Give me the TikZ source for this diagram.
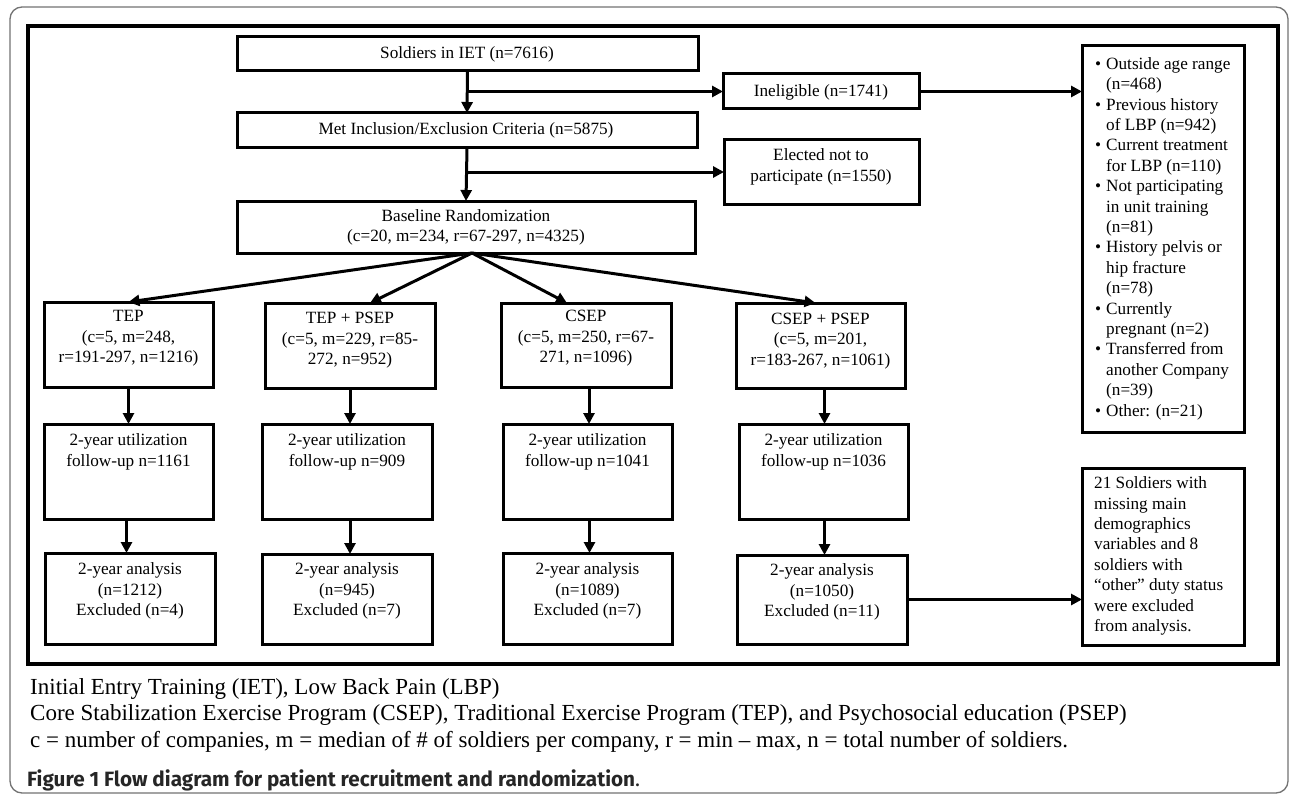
\documentclass[tikz,border=0pt]{standalone}
\usepackage{fontspec}
\setmainfont{Liberation Serif}
\newfontfamily\capfont{Fira Sans}
\usetikzlibrary{arrows.meta,calc}
\newcommand\bl{\makebox[11pt][l]{•}}
\newcommand\ind{\hspace*{11pt}}
\begin{document}
\begin{tikzpicture}[x=1pt,y=-1pt,
  fbox/.style={draw=black, line width=3pt, inner sep=0pt, outer sep=0pt},
  txt/.style={font=\fontsize{17.2}{20.4}\selectfont, align=center, inner sep=0pt},
  ltxt/.style={font=\fontsize{17.2}{20.4}\selectfont, align=left, inner sep=0pt, anchor=west},
  arr/.style={line width=3pt, -{Triangle[length=11pt,width=11pt]}},
  ln/.style={line width=3pt},
  note/.style={font=\fontsize{23}{26.5}\selectfont, anchor=west, inner sep=0pt}]

\useasboundingbox (0,0) rectangle (1290,797);
\fill[white] (0,0) rectangle (1290,797);
\draw[black!55, line width=1.3pt, rounded corners=12pt] (10,7) rectangle (1288,793);
\draw[line width=4pt] (28,26) rectangle (1278,664);

% boxes
\node[fbox, minimum width=461pt, minimum height=34pt] (soldiers) at (467.5,54) {};
\node[fbox, minimum width=460pt, minimum height=35pt] (met) at (467,130.5) {};
\node[fbox, minimum width=458pt, minimum height=52pt] (base) at (466,227) {};
\node[fbox, minimum width=196pt, minimum height=35pt] (inel) at (821,91.5) {};
\node[fbox, minimum width=195pt, minimum height=64pt] (elect) at (821.5,172) {};
\node[fbox, minimum width=162pt, minimum height=386pt] (list) at (1163,239) {};
\node[fbox, minimum width=169pt, minimum height=85pt] (tep) at (128.5,344.5) {};
\node[fbox, minimum width=170pt, minimum height=85pt] (tepp) at (350,345.5) {};
\node[fbox, minimum width=170pt, minimum height=84pt] (csep) at (586,345) {};
\node[fbox, minimum width=169pt, minimum height=85pt] (csepp) at (820.5,345.5) {};
\node[fbox, minimum width=169pt, minimum height=95pt] (util1) at (128.5,471.5) {};
\node[fbox, minimum width=170pt, minimum height=95pt] (util2) at (347,471.5) {};
\node[fbox, minimum width=169pt, minimum height=95pt] (util3) at (587.5,471.5) {};
\node[fbox, minimum width=169pt, minimum height=95pt] (util4) at (823.5,471.5) {};
\node[fbox, minimum width=170pt, minimum height=91pt] (anal1) at (130,598.5) {};
\node[fbox, minimum width=170pt, minimum height=90pt] (anal2) at (347,599) {};
\node[fbox, minimum width=169pt, minimum height=91pt] (anal3) at (587.5,598.5) {};
\node[fbox, minimum width=170pt, minimum height=89pt] (anal4) at (822,599.5) {};
\node[fbox, minimum width=162pt, minimum height=177pt] (excl) at (1163,556.5) {};

% texts
\node[txt] (soldiers-t) at (467,54) {Soldiers in IET (n=7616)};
\node[txt] (met-t) at (466,130.5) {Met Inclusion/Exclusion Criteria (n=5875)};
\node[txt] (base-t) at (466,227.5) {Baseline Randomization\\(c=20, m=234, r=67-297, n=4325)};
\node[txt] (inel-t) at (821,92) {Ineligible (n=1741)};
\node[txt] (elect-t) at (821,167) {Elected not to\\participate (n=1550)};
\node[ltxt] (list-t) at (1095,238.5) {\bl Outside age range\\\ind(n=468)\\\bl Previous history\\\ind of LBP (n=942)\\\bl Current treatment\\\ind for LBP (n=110)\\\bl Not participating\\\ind in unit training\\\ind(n=81)\\\bl History pelvis or\\\ind hip fracture\\\ind(n=78)\\\bl Currently\\\ind pregnant (n=2)\\\bl Transferred from\\\ind another Company\\\ind(n=39)\\\bl Other: (n=21)};
\node[txt] (tep-t) at (128.5,338.5) {TEP\\(c=5, m=248,\\r=191-297, n=1216)};
\node[txt] (tepp-t) at (350,340.5) {TEP + PSEP\\(c=5, m=229, r=85-\\272, n=952)};
\node[txt] (csep-t) at (586,338.5) {CSEP\\(c=5, m=250, r=67-\\271, n=1096)};
\node[txt] (csepp-t) at (820.5,341) {CSEP + PSEP\\(c=5, m=201,\\r=183-267, n=1061)};
\node[txt] (util1-t) at (128.5,452) {2-year utilization\\follow-up n=1161};
\node[txt] (util2-t) at (347,452) {2-year utilization\\follow-up n=909};
\node[txt] (util3-t) at (587.5,452) {2-year utilization\\follow-up n=1041};
\node[txt] (util4-t) at (823.5,452) {2-year utilization\\follow-up n=1036};
\node[txt] (anal1-t) at (130,591) {2-year analysis\\(n=1212)\\Excluded (n=4)};
\node[txt] (anal2-t) at (347,591) {2-year analysis\\(n=945)\\Excluded (n=7)};
\node[txt] (anal3-t) at (587.5,591) {2-year analysis\\(n=1089)\\Excluded (n=7)};
\node[txt] (anal4-t) at (822,592) {2-year analysis\\(n=1050)\\Excluded (n=11)};
\node[ltxt] (excl-t) at (1094,556) {21 Soldiers with\\missing main\\demographics\\variables and 8\\soldiers with\\“other” duty status\\were excluded\\from analysis.};

% connectors
\draw[arr] (soldiers.south) -- (met.north);
\draw[arr] (soldiers.south |- inel.west) -- (inel.west);
\draw[arr] (met.south) -- (base.north);
\draw[arr] (met.south |- elect.west) -- (elect.west);
\draw[arr] (inel.east) -- (inel.east -| list.west);
\draw[arr] ([xshift=6pt]base.south) -- (tep.north);
\draw[arr] ([xshift=6pt]base.south) -- ([xshift=20pt]tepp.north);
\draw[arr] ([xshift=6pt]base.south) -- ([xshift=-19pt]csep.north);
\draw[arr] ([xshift=6pt]base.south) -- ([xshift=-5pt]csepp.north);
\draw[arr] (tep.south) -- (tep.south |- util1.north);
\draw[arr] (tepp.south) -- (tepp.south |- util2.north);
\draw[arr] ([xshift=3pt]csep.south) -- ([xshift=3pt]csep.south |- util3.north);
\draw[arr] ([xshift=4pt]csepp.south) -- ([xshift=4pt]csepp.south |- util4.north);
\draw[arr] ([xshift=-2pt]util1.south) -- ([xshift=-2pt]util1.south |- anal1.north);
\draw[arr] ([xshift=3pt]util2.south) -- ([xshift=3pt]util2.south |- anal2.north);
\draw[arr] ([xshift=2pt]util3.south) -- ([xshift=2pt]util3.south |- anal3.north);
\draw[arr] ([xshift=1pt]util4.south) -- ([xshift=1pt]util4.south |- anal4.north);
\draw[arr] (anal4.east) -- (anal4.east -| excl.west);

% notes
\node[note] (n1) at (30,689) {Initial Entry Training (IET), Low Back Pain (LBP)};
\node[note] (n2) at (30,715) {Core Stabilization Exercise Program (CSEP), Traditional Exercise Program (TEP), and Psychosocial education (PSEP)};
\node[note] (n3) at (30,742) {c = number of companies, m = median of \# of soldiers per company, r = min – max, n = total number of soldiers.};
\node[anchor=west, inner sep=0pt, text=black!85, font=\capfont\fontsize{20.7}{23}\selectfont] (cap) at (27,780) {\textbf{Figure 1 Flow diagram for patient recruitment and randomization}.};
\end{tikzpicture}
\end{document}
